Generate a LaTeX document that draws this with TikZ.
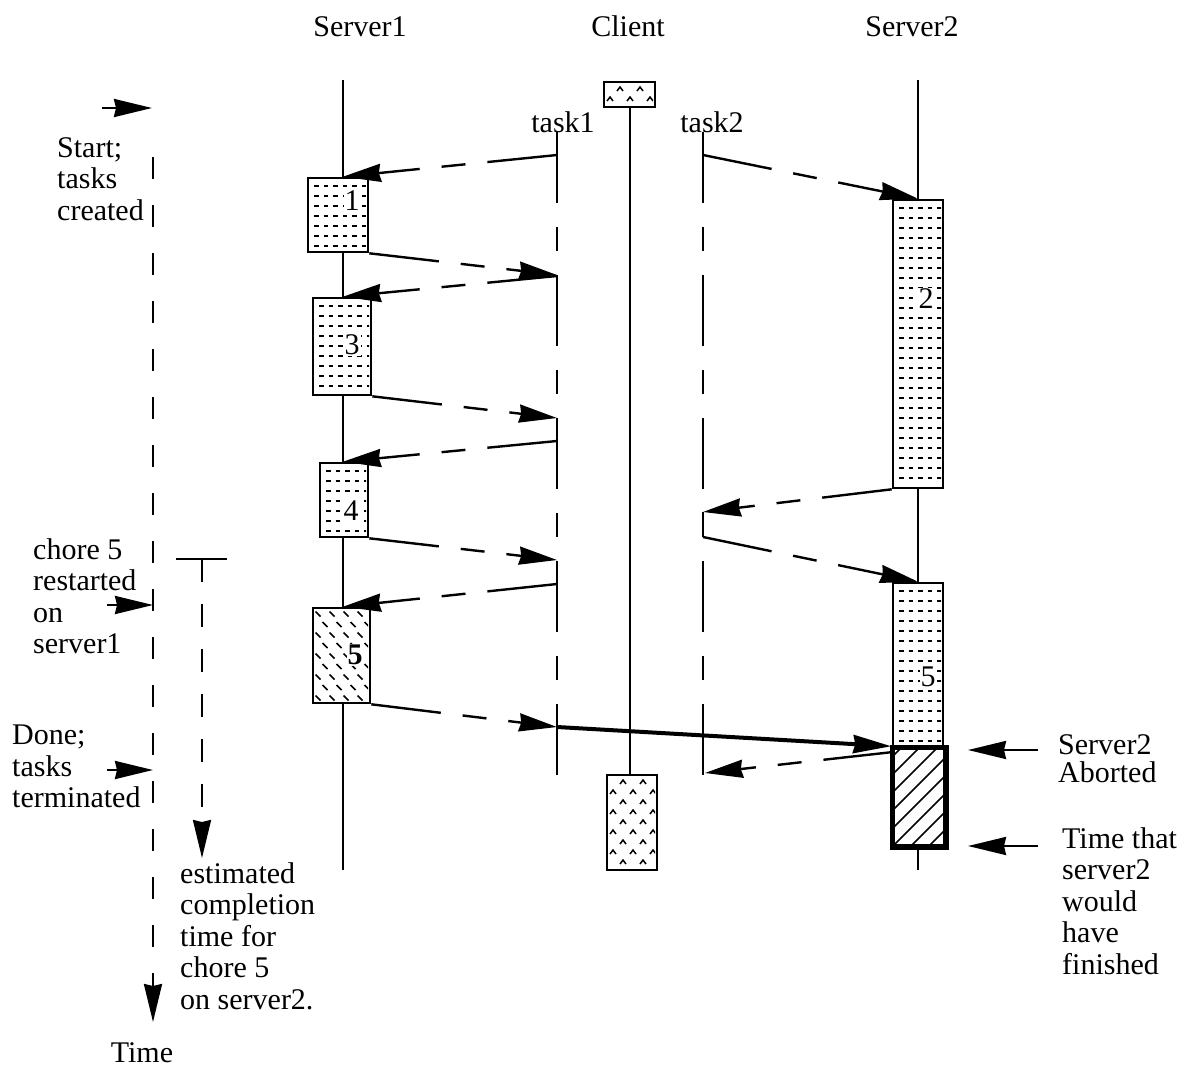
\documentclass[tikz,border=0pt]{standalone}
\usepackage{fontspec}
\setmainfont{Liberation Serif}
\usetikzlibrary{arrows.meta}
\newcommand\myDashRows[4]{%
  \begin{scope}
    \clip (#1+2,#2+2) rectangle (#3-2,#4-2);
    \foreach \k in {0,...,30}{%
      \draw[line width=2pt, dash pattern=on 4.5pt off 5pt] (#1+6,#2+8+10*\k) -- (#3,#2+8+10*\k);}
  \end{scope}}
\newcommand\myTicks[4]{%
  \begin{scope}
    \clip (#1+2,#2+2) rectangle (#3-2,#4-2);
    \foreach \j in {0,...,9}{\foreach \i in {0,...,4}{%
      \pgfmathsetmacro\xx{#1+5+14*\i+7*mod(\j,2)}
      \pgfmathsetmacro\yy{#2+6+10.5*\j}
      \draw[line width=1.6pt] (\xx-2.5,\yy-2.5) -- (\xx+2.5,\yy+2.5);}}
  \end{scope}}
\newcommand\myChevrons[4]{%
  \begin{scope}
    \clip (#1+2,#2+2) rectangle (#3-2,#4-2);
    \foreach \j in {0,...,10}{\foreach \i in {0,...,3}{%
      \pgfmathsetmacro\xx{#1+6+20*\i+10*(1-mod(\j,2))}
      \pgfmathsetmacro\yy{#2+7+10*\j}
      \draw[line width=1.5pt] (\xx-3,\yy+2) -- (\xx,\yy-2) -- (\xx+3,\yy+2);}}
  \end{scope}}
\newcommand\myHatch[4]{%
  \begin{scope}
    \clip (#1,#2) rectangle (#3,#4);
    \foreach \k in {-7,...,4}{\draw[line width=1.5pt] (#1+18*\k,#4) -- (#1+18*\k+150,#4-150);}
  \end{scope}}
\begin{document}
\begin{tikzpicture}[x=1pt,y=-1pt,
  txt/.style={font=\fontsize{30}{31.5}\selectfont, inner sep=0pt},
  life/.style={line width=2pt},
  tline/.style={line width=2.2pt, dash pattern=on 71pt off 24pt on 24pt off 24pt},
  chorebox/.style={draw, line width=2.6pt, fill=white, inner sep=0pt},
  num/.style={font=\fontsize{30}{31.5}\selectfont, fill=white, inner sep=1pt},
  tip/.style={-{Stealth[length=38pt,width=18pt,inset=2pt]}},
  msg/.style={line width=2.4pt, dash pattern=on 70pt off 22pt on 24pt off 22pt on 800pt, tip},
  solidarrow/.style={line width=2.4pt, tip},
  timeline/.style={line width=2.2pt, dash pattern=on 22pt off 26pt, tip},
  estline/.style={line width=2.2pt, dash pattern=on 23pt off 22pt, tip}]
\useasboundingbox (0,0) rectangle (1199,1068);

% headers
\node[txt, anchor=base] (h1) at (360,36) {Server1};
\node[txt, anchor=base] (h2) at (628,36) {Client};
\node[txt, anchor=base] (h3) at (912,36) {Server2};
\node[txt, anchor=base] (lt1) at (563,132) {task1};
\node[txt, anchor=base] (lt2) at (712,132) {task2};

% lifeline coordinates
\coordinate (s1top) at (343,80);  \coordinate (s1bot) at (343,870);
\coordinate (s2top) at (918,80);  \coordinate (s2bot) at (918,870);
\coordinate (t1top) at (557,132); \coordinate (t1bot) at (557,775);
\coordinate (t2top) at (703,132); \coordinate (t2bot) at (703,775);

\draw[life] (s1top) -- (s1bot);
\draw[life] (s2top) -- (s2bot);
\draw[tline] (t1top) -- (t1bot);
\draw[tline] (t2top) -- (t2bot);

% client
\node[chorebox, minimum width=51pt, minimum height=25pt] (c1) at (629.5,94.5) {};
\node[chorebox, minimum width=50pt, minimum height=95pt] (c2) at (632,822.5) {};
\draw[life] (c1.south -| 630,0) -- (c2.north -| 630,0);
\myChevrons{604}{82}{655}{107}
\myChevrons{607}{775}{657}{870}

% server1 boxes
\node[chorebox, minimum width=60pt, minimum height=74pt] (b1) at (338,215) {};
\myDashRows{308}{178}{368}{252}
\node[num] (n1) at (352,201) {1};
\node[chorebox, minimum width=58pt, minimum height=97pt] (b3) at (342,346.5) {};
\myDashRows{313}{298}{371}{395}
\node[num] (n3) at (352,345) {3};
\node[chorebox, minimum width=48pt, minimum height=74pt] (b4) at (344,500) {};
\myDashRows{320}{463}{368}{537}
\node[num] (n4) at (351,511) {4};
\node[chorebox, minimum width=57pt, minimum height=95pt] (b5) at (341.5,655.5) {};
\myTicks{313}{608}{370}{703}
\node[num, font=\fontsize{30}{31.5}\selectfont\bfseries] (n5) at (355,655) {5};

% server2 boxes
\node[chorebox, minimum width=50pt, minimum height=288pt] (b2) at (918,344) {};
\myDashRows{893}{200}{943}{488}
\node[num] (n2) at (926,299) {2};
\node[chorebox, minimum width=50pt, minimum height=165pt] (b6) at (918,665.5) {};
\myDashRows{893}{583}{943}{748}
\node[num] (n6) at (928,677) {5};
\node[chorebox, line width=3.5pt, minimum width=52pt, minimum height=98pt] (bab) at (919,797) {};
\myHatch{893}{748}{945}{846}
\draw[line width=3.5pt] (bab.north west) rectangle (bab.south east);

% message points on task lines
\coordinate (m1) at (557,155);
\coordinate (m2) at (557,275);
\coordinate (m3) at (557,276);
\coordinate (m4) at (557,418);
\coordinate (m5) at (557,441);
\coordinate (m6) at (557,560);
\coordinate (m7) at (557,584);
\coordinate (m8) at (557,727);
\coordinate (k1) at (703,155);
\coordinate (k2) at (703,512);
\coordinate (k3) at (703,537);
\coordinate (k4) at (705,773);
\coordinate (r12) at (893,752);

\draw[msg] (m1) -- (b1.north -| s1top);
\draw[msg] (b1.south east) -- (m2);
\draw[msg] (m3) -- (b3.north -| s1top);
\draw[msg] (b3.south east) -- (m4);
\draw[msg] (m5) -- (b4.north -| s1top);
\draw[msg] (b4.south east) -- (m6);
\draw[msg] (m7) -- (b5.north -| s1top);
\draw[msg] (b5.south east) -- (m8);
\draw[line width=4pt, tip] (m8) -- (bab.north west);

\draw[msg] (k1) -- (b2.north -| s2top);
\draw[msg] (b2.south west) -- (k2);
\draw[line width=2.4pt] (k2) -- (k3);
\draw[msg] (k3) -- (b6.north -| s2top);
\draw[msg] (r12) -- (k4);

% right annotations
\coordinate (ra1) at (1038,750); \coordinate (ra1t) at (968,750);
\coordinate (ra2) at (1038,846); \coordinate (ra2t) at (968,846);
\draw[solidarrow] (ra1) -- (ra1t);
\draw[solidarrow] (ra2) -- (ra2t);
\node[txt, align=left, anchor=north west, font=\fontsize{30}{28}\selectfont] (nab) at (1058,734) {Server2\\Aborted};
\node[txt, align=left, anchor=north west] (nfin) at (1062,827) {Time that\\server2\\would\\have\\finished};

% left time axis
\coordinate (tax0) at (153,157); \coordinate (tax1) at (153,1022);
\draw[timeline] (tax0) -- (tax1);
\node[txt, anchor=base] (ntime) at (142,1062) {Time};
\coordinate (la1) at (102,108); \coordinate (la1t) at (152,108);
\coordinate (la2) at (107,605); \coordinate (la2t) at (153,605);
\coordinate (la3) at (107,770); \coordinate (la3t) at (153,770);
\draw[solidarrow] (la1) -- (la1t);
\draw[solidarrow] (la2) -- (la2t);
\draw[solidarrow] (la3) -- (la3t);
\node[txt, align=left, anchor=north west] (nstart) at (57,137) {Start;\\tasks\\created};
\node[txt, align=left, anchor=north west] (nchore) at (33,538) {chore 5\\restarted\\on\\server1};
\node[txt, align=left, anchor=north west] (ndone) at (12,725) {Done;\\tasks\\terminated};

% estimated completion
\coordinate (ta) at (176,559); \coordinate (tb) at (227,559);
\coordinate (tc) at (202,559); \coordinate (td) at (202,858);
\draw[line width=2.2pt] (ta) -- (tb);
\draw[estline] (tc) -- (td);
\node[txt, align=left, anchor=north west] (nest) at (180,862) {estimated\\completion\\time for\\chore 5\\on server2.};
\end{tikzpicture}
\end{document}
